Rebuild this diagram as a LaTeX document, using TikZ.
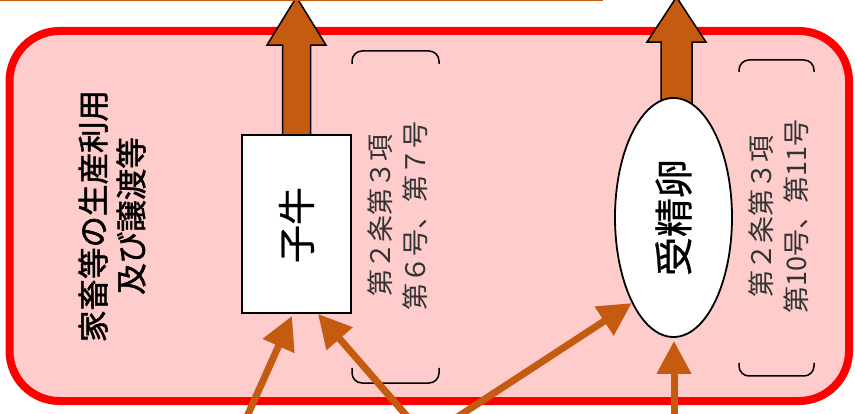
\documentclass[tikz,border=0pt]{standalone}
\usepackage{fontspec}
\newfontfamily\cjk{Noto Sans CJK JP}
\newfontfamily\cjkbold[FakeBold=1.6]{Noto Sans CJK JP}
\newfontfamily\cjkmed[FakeBold=0.8]{Noto Sans CJK JP}
\usetikzlibrary{shapes.geometric,arrows.meta,calc,backgrounds}
\definecolor{brn}{HTML}{C55A11}
\definecolor{pinkf}{HTML}{FFCCCC}
\definecolor{redl}{HTML}{FF0000}
\tikzset{
  frame/.style={draw=redl,line width=8pt,fill=pinkf,rounded corners=50pt},
  itembox/.style={draw=black,line width=1.8pt,fill=white,inner sep=0pt,minimum width=109pt,minimum height=178pt},
  itemegg/.style={ellipse,draw=black,line width=1.8pt,fill=white,inner sep=0pt,minimum width=117pt,minimum height=239pt},
  itemtext/.style={rotate=90,inner sep=0pt,font=\cjkmed\fontsize{38}{44}\selectfont},
  sidetext/.style={rotate=90,inner sep=0pt,align=center,font=\cjkbold\fontsize{31.5}{38}\selectfont},
  lawtext/.style={rotate=90,inner sep=0pt,align=center,text=black!80,font=\cjk\fontsize{27}{35}\selectfont},
  bracket/.style={draw=black,line width=1.5pt,rounded corners=10pt},
  bigarr/.style={draw=black,line width=1.5pt,fill=brn,line join=miter},
  thinarr/.style={draw=brn,line width=7pt,-{Triangle[length=33pt,width=33pt]}},
  topline/.style={draw=brn,line width=2pt}
}
\begin{document}
\begin{tikzpicture}[x=1pt,y=-1pt]
\useasboundingbox (0,0) rectangle (855,414);
% nodes
\node[itembox] (calf) at (296.5,224) {};
\node[itemtext] (calft) at (296.5,225) {子牛};
\node[itemegg] (egg) at (673.5,217.5) {};
\node[itemtext,font=\cjkmed\fontsize{39}{44}\selectfont] (eggt) at (673.5,217.5) {受精卵};
\node[sidetext] (lab) at (112,216) {家畜等の生産利用\\及び譲渡等};
\node[lawtext] (lawa) at (397.5,216) {第２条第３項\\第６号、第７号};
\node[lawtext] (lawb) at (778.5,216.5) {第２条第３項\\第10号、第11号};
% background: frame and big arrows
\begin{scope}[on background layer]
\draw[frame] (9.5,31) rectangle (849,401);
\coordinate (lt) at (calf.north);
\draw[bigarr] ($(lt)+(-14,10)$) -- ($(lt)+(-14,-89)$) -- ($(lt)+(-29.5,-89)$) -- ($(lt)+(0,-137)$) -- ($(lt)+(29.5,-89)$) -- ($(lt)+(14,-89)$) -- ($(lt)+(14,10)$);
\coordinate (rt) at ($(egg.north)+(3,0)$);
\draw[bigarr] ($(rt)+(-15.5,12)$) -- ($(rt)+(-15.5,-55)$) -- ($(rt)+(-29.5,-55)$) -- ($(rt)+(0,-100)$) -- ($(rt)+(29.5,-55)$) -- ($(rt)+(15.5,-55)$) -- ($(rt)+(15.5,12)$);
\end{scope}
\draw[topline] (0,0) -- (603,0);
% brackets
\draw[bracket] (352,64) -- (352,51) -- (439,51) -- (439,64);
\draw[bracket] (352,368) -- (352,383) -- (439,383) -- (439,368);
\draw[bracket] (739,72) -- (739,60) -- (814,60) -- (814,72);
\draw[bracket] (739,363) -- (739,376) -- (814,376) -- (814,363);
% thin arrows
\coordinate (s1) at (241,430);
\coordinate (s2) at (419,430);
\coordinate (s3) at (437.5,430);
\coordinate (s4) at (674,430);
\draw[thinarr] (s1) -- ($(calf.south)+(-4.5,2)$);
\draw[thinarr] (s2) -- ($(calf.south)+(21.5,0)$);
\draw[thinarr] (s3) -- (egg.244);
\draw[thinarr] (s4) -- ($(egg.south)+(0.5,3)$);
\end{tikzpicture}
\end{document}
